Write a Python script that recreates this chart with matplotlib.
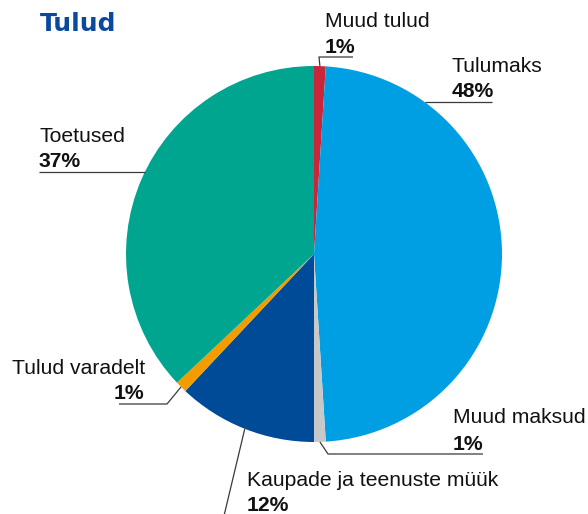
import numpy as np
import matplotlib
matplotlib.use("Agg")
import matplotlib.pyplot as plt

W, H = 588, 514

labels = ["Muud tulud", "Tulumaks", "Muud maksud", "Kaupade ja teenuste müük",
          "Tulud varadelt", "Toetused"]
shares = [1, 48, 1, 12, 1, 37]
pct_labels = ["1%", "48%", "1%", "12%", "1%", "37%"]
colors = ["#C8273A", "#009FE3", "#C8C8C8", "#004B97", "#F39C00", "#00A590"]

# pie geometry in pixels (y measured from top)
CX, CY, R = 314, 254, 188


def Y(py):
    return H - py


def on_circle(frac):
    th = np.deg2rad(90 - 360 * frac)
    return CX + R * np.cos(th), Y(CY) + R * np.sin(th)


fig = plt.figure(figsize=(W / 100, H / 100), dpi=100)
ax = fig.add_axes([0, 0, 1, 1])

ax.pie(shares, colors=colors, startangle=90, counterclock=False,
       center=(CX, Y(CY)), radius=R, wedgeprops=dict(linewidth=0))
ax.set_xlim(0, W)
ax.set_ylim(0, H)
ax.set_aspect("equal")
ax.axis("off")

fig.text(40 / W, 1 - 31 / H, "Tulud", fontsize=18, fontweight="bold",
         color="#0B4A9B", family="DejaVu Sans", va="baseline")

tot = float(sum(shares))
cum = np.cumsum([0] + shares[:-1]) / tot
mids = cum + np.array(shares) / tot / 2
anchor = list(mids)

# label layout: text x, name baseline, pct baseline, leader path after rim point
layout = [
    (325, 27, 53, [(319, 57), (353, 57)]),
    (452, 72, 97, [(492, 102)]),
    (453, 423, 450, [(328, 454), (483, 454)]),
    (247, 486, 511, [(223, 520)]),
    (12, 374, 399, [(167, 404), (119, 404)]),
    (39, 142, 167, [(39, 172)]),
]

lc = "#3a3a3a"
for i, (tx, nb, pb, path) in enumerate(layout):
    x0, y0 = on_circle(anchor[i])
    if i == 1:
        y0 = Y(102)
        x0 = CX + np.sqrt(R ** 2 - (y0 - Y(CY)) ** 2)
    if i == 5:
        y0 = Y(172)
        x0 = CX - np.sqrt(R ** 2 - (y0 - Y(CY)) ** 2)
    xs = [x0] + [p[0] for p in path]
    ys = [y0] + [Y(p[1]) for p in path]
    ax.plot(xs, ys, color=lc, lw=0.9, solid_capstyle="butt", clip_on=False)
    ax.text(tx, Y(nb), labels[i], fontsize=15.2, family="Liberation Sans",
            ha="left", va="baseline", color="#111111")
    if i == 4:
        ax.text(144, Y(pb), pct_labels[i], fontsize=15.2, fontweight="bold",
                family="Liberation Sans", ha="right", va="baseline", color="#111111")
    else:
        ax.text(tx, Y(pb), pct_labels[i], fontsize=15.2, fontweight="bold",
                family="Liberation Sans", ha="left", va="baseline", color="#111111")

fig.savefig("out.png", dpi=100)
